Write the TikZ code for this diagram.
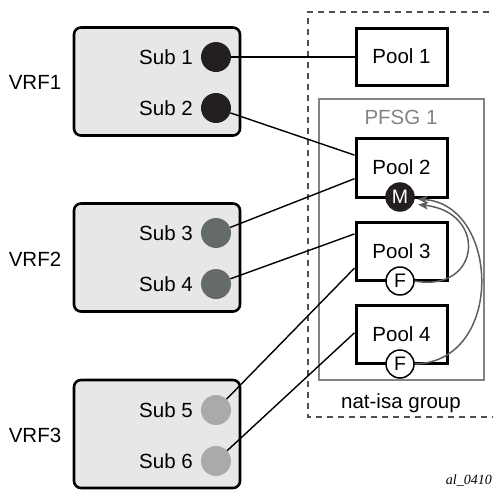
\documentclass[tikz,border=0pt]{standalone}
\usepackage{fontspec}
\setmainfont{Liberation Sans}
\newfontfamily\labelserif{Liberation Serif}
\usetikzlibrary{arrows.meta,calc}
\definecolor{vrffill}{RGB}{231,231,231}
\definecolor{subA}{RGB}{35,31,32}
\definecolor{subB}{RGB}{100,107,105}
\definecolor{subC}{RGB}{170,170,173}
\definecolor{pfsggray}{RGB}{128,133,131}
\definecolor{dashgray}{RGB}{80,80,80}
\definecolor{arrowgray}{RGB}{95,95,95}
\tikzset{
  txt/.style={font=\fontsize{20.5}{24}\selectfont, inner sep=0pt},
  vrfbox/.style={draw=black, line width=2.6pt, fill=vrffill, rounded corners=7pt, minimum width=166pt, minimum height=108pt},
  subdot/.style={circle, minimum size=30pt, inner sep=0pt},
  poolbox/.style={draw=black, line width=3pt, fill=white, minimum width=91pt, txt},
  roledot/.style={circle, minimum size=28pt, inner sep=0pt, line width=1.5pt, font=\fontsize{19.5}{22}\selectfont},
  conn/.style={draw=black, line width=1.4pt},
  flow/.style={draw=arrowgray, line width=1.5pt, -{Stealth[length=10pt,width=8pt,inset=2.5pt]}}
}
\begin{document}
\begin{tikzpicture}[x=1pt,y=-1pt]
\useasboundingbox (0,0) rectangle (493,496);
% nat-isa group dashed area
\draw[dashgray, line width=2.7pt, dash pattern=on 6pt off 5pt] (500,12) -- (308,12) -- (308,417) -- (500,417);
\node[txt] (nat) at (401,403) {nat-isa group};
% PFSG box
\node[draw=pfsggray, line width=2.6pt, minimum width=165pt, minimum height=281pt, inner sep=0pt] (pfsg) at (401.5,239.5) {};
\node[txt, text=pfsggray] (pfsgl) at (401,117) {PFSG 1};
% VRF boxes
\node[vrfbox] (vrf1) at (157,81.5) {};
\node[vrfbox] (vrf2) at (157,257.5) {};
\node[vrfbox] (vrf3) at (157,434) {};
\node[txt] (l1) at (35,82) {VRF1};
\node[txt] (l2) at (35,259) {VRF2};
\node[txt] (l3) at (35,435) {VRF3};
% subs
\node[subdot, fill=subA] (s1) at (216,57) {};
\node[subdot, fill=subA] (s2) at (216,108) {};
\node[subdot, fill=subB] (s3) at (216,233) {};
\node[subdot, fill=subB] (s4) at (216,284) {};
\node[subdot, fill=subC] (s5) at (216,410) {};
\node[subdot, fill=subC] (s6) at (216,461) {};
\node[txt, anchor=east] (t1) at (193,57) {Sub 1};
\node[txt, anchor=east] (t2) at (193,108) {Sub 2};
\node[txt, anchor=east] (t3) at (193,233) {Sub 3};
\node[txt, anchor=east] (t4) at (193,284) {Sub 4};
\node[txt, anchor=east] (t5) at (193,410) {Sub 5};
\node[txt, anchor=east] (t6) at (193,461) {Sub 6};
% pools
\node[poolbox, minimum height=57pt] (p1) at (401.5,56.5) {Pool 1};
\node[poolbox, minimum height=59pt] (p2) at (401.5,167.5) {Pool 2};
\node[poolbox, minimum height=58pt] (p3) at (401.5,251) {Pool 3};
\node[poolbox, minimum height=58pt] (p4) at (401.5,334) {Pool 4};
\node[roledot, fill=subA, draw=subA, text=white] (m) at (400,197) {M};
\node[roledot, fill=white, draw=black] (f3) at (400,281) {F};
\node[roledot, fill=white, draw=black] (f4) at (400,364) {F};
% connectors
\draw[conn] (s1) -- (p1.west |- s1);
\draw[conn] (s2) -- ($(p2.north west)!0.30!(p2.south west)$);
\draw[conn] (s3) -- ($(p2.north west)!0.68!(p2.south west)$);
\draw[conn] (s4) -- ($(p3.north west)!0.22!(p3.south west)$);
\draw[conn] (s5) -- ($(p3.north west)!0.78!(p3.south west)$);
\draw[conn] (s6) -- ($(p4.north west)!0.48!(p4.south west)$);
% flows to M
\draw[flow] (f3.east) .. controls (481,293) and (488,212) .. ([shift={(4pt,-3pt)}]m.-18);
\draw[flow] (f4.east) .. controls (505,362) and (500,205) .. ([shift={(3pt,0pt)}]m.-8);
% label
\node[font=\labelserif\itshape\fontsize{14}{16}\selectfont, anchor=east, inner sep=0pt] (al) at (492,481) {al\_0410};
\end{tikzpicture}
\end{document}
